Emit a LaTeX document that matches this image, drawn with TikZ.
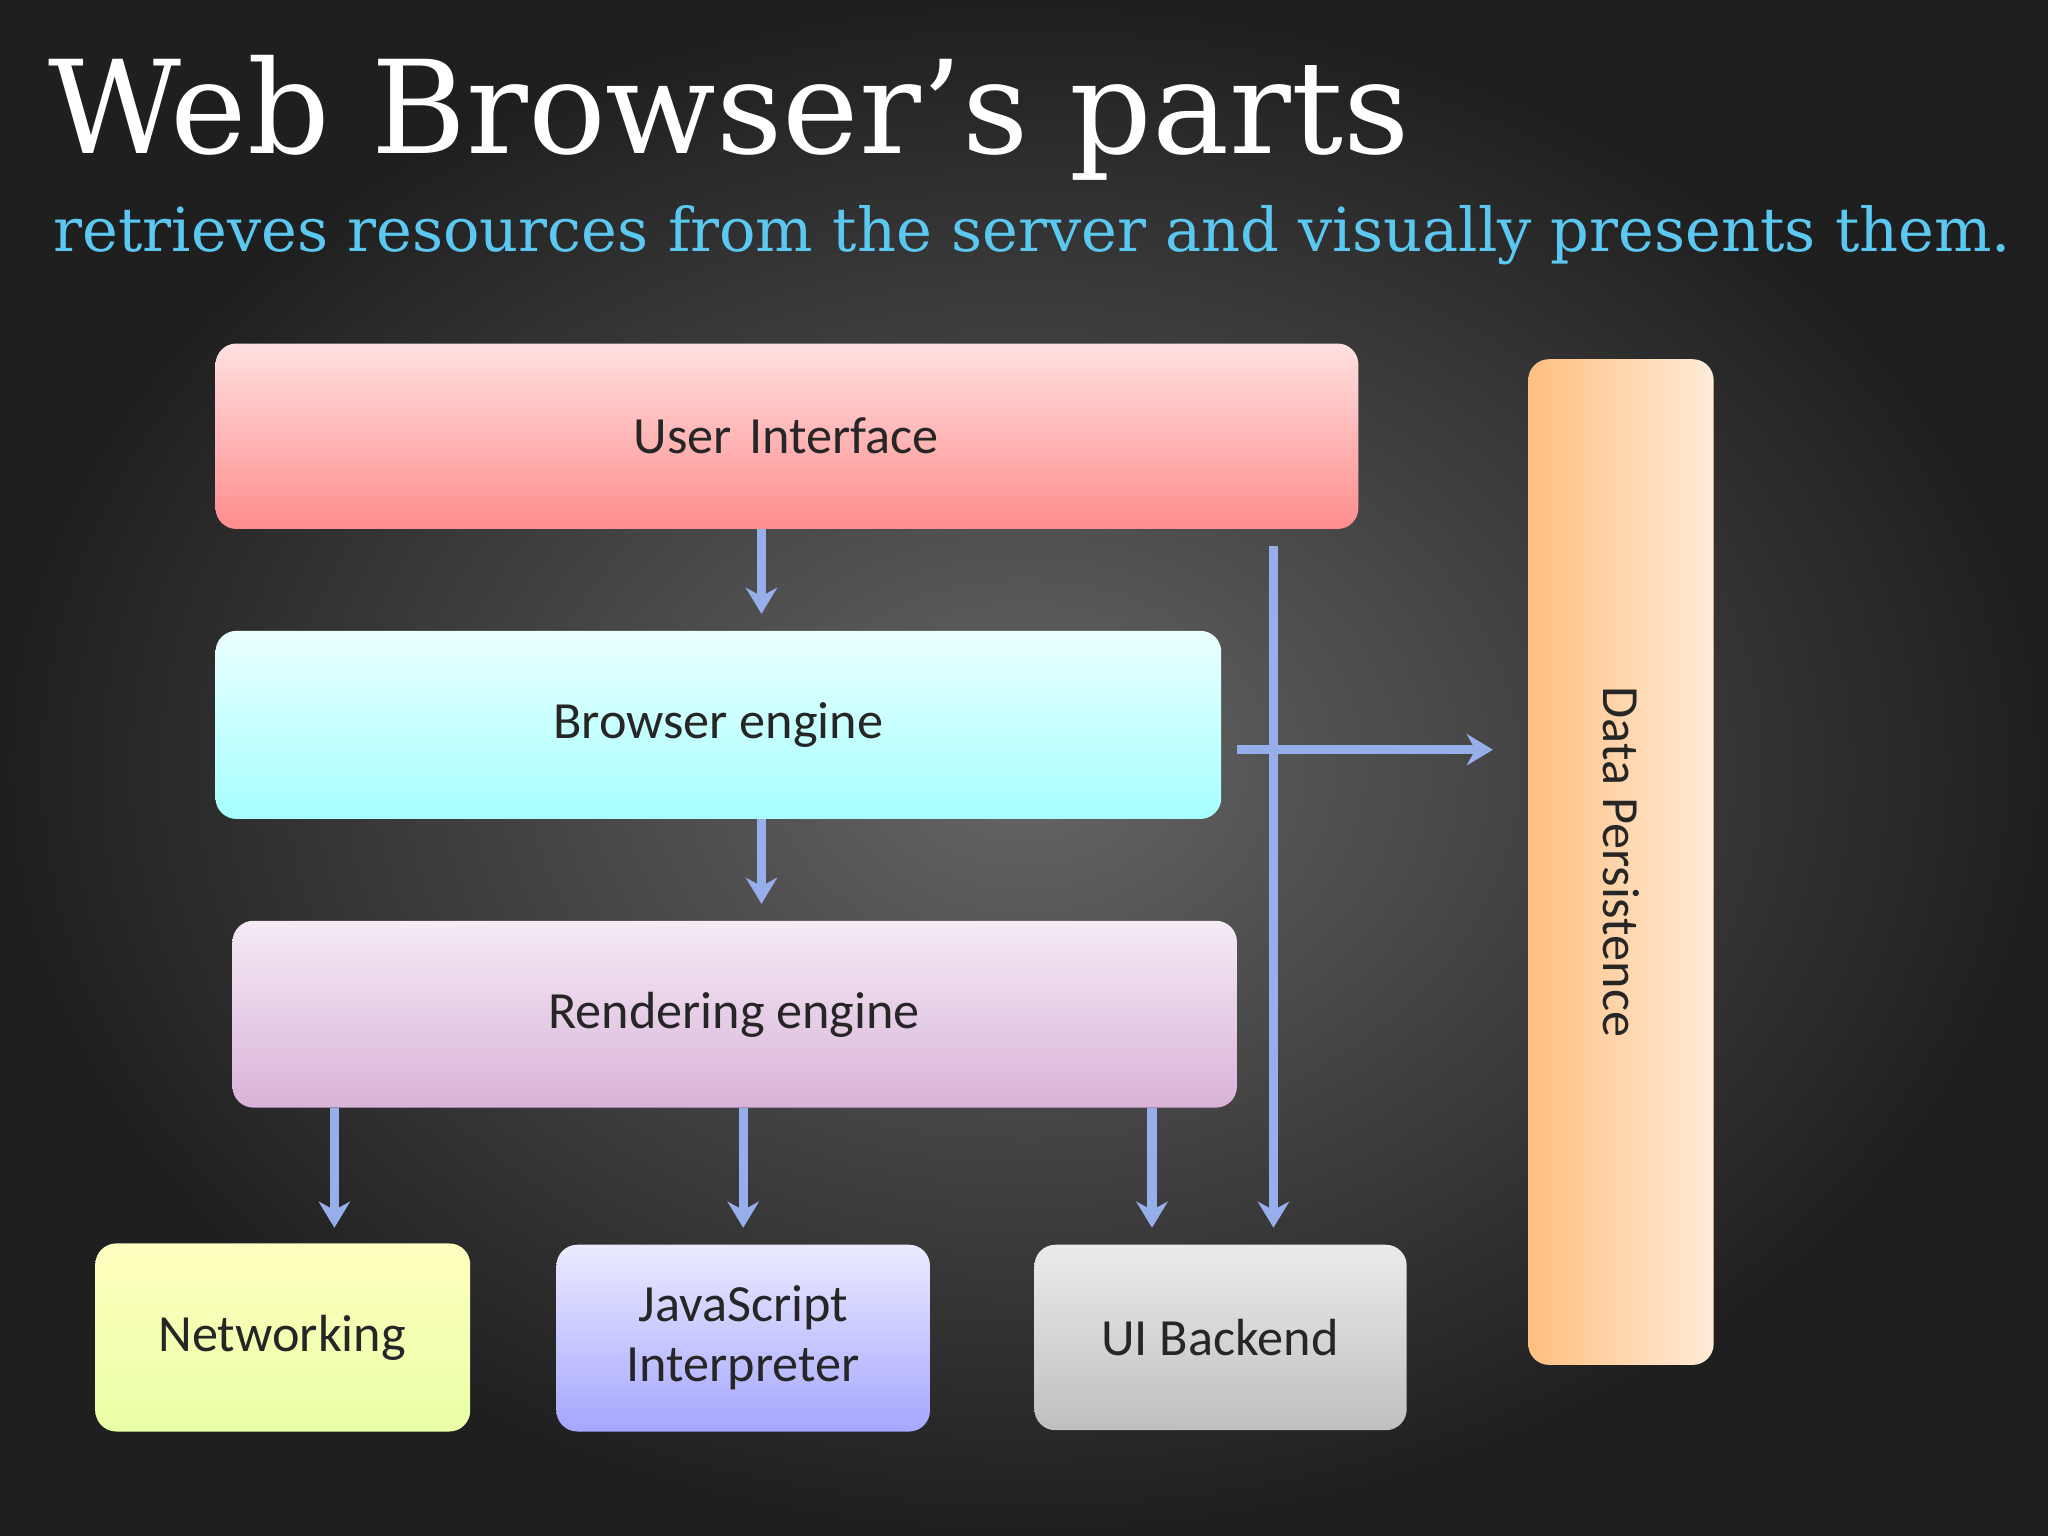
\documentclass[tikz,border=0pt]{standalone}
\usepackage{fontspec}
\setmainfont{DejaVu Serif}
\newfontfamily\boxfont{Carlito}
\usetikzlibrary{arrows.meta}
\definecolor{subblue}{RGB}{90,200,240}
\definecolor{linkblue}{RGB}{150,175,235}
\tikzset{
  part/.style={rounded corners=8pt, draw=none, font=\boxfont\fontsize{20}{23}\selectfont, text=black!85, align=center},
  link/.style={draw=linkblue, line width=3.5pt, -{Stealth[length=10pt,width=12pt]}}
}
\begin{document}
\begin{tikzpicture}[x=0.5pt,y=0.5pt,yscale=-1,xscale=1]
%background
\shade[inner color=black!60, outer color=black!88] (0,0) rectangle (1568,1176);
\useasboundingbox (0,0) rectangle (1568,1176);

% Title
\node (title) [anchor=west, text=white, font=\fontsize{49.5}{52}\selectfont] at (30,90) {Web Browser’s parts};
\node (subtitle) [anchor=west, text=subblue, font=\fontsize{23.2}{26}\selectfont] at (34,180) {retrieves resources from the server and visually presents them.};

%Rounded Rects
\shade[part, top color=red!12, bottom color=red!45] (165,263) rectangle (1040,405);
\node (ui) at (602,334) [part] {User\,\,Interface};
\shade[part, top color=cyan!8, bottom color=cyan!35] (165,483) rectangle (935,627);
\node (be) at (550,555) [part] {Browser engine};
\shade[part, top color=violet!8, bottom color=violet!30] (178,705) rectangle (947,848);
\node (re) at (562,777) [part] {Rendering engine};
\shade[part, top color=yellow!25!white, bottom color=lime!35] (73,952) rectangle (360,1096);
\node (net) at (216,1024) [part] {Networking};
\shade[part, top color=blue!8, bottom color=blue!35] (426,953) rectangle (712,1096);
\node (js) at (569,1024) [part] {JavaScript\\Interpreter};
\shade[part, top color=white!92!black, bottom color=black!25] (792,953) rectangle (1077,1095);
\node (uib) at (934,1024) [part] {UI Backend};
\shade[part, left color=orange!50, right color=orange!15] (1170,275) rectangle (1312,1045);
\node (dp) at (1241,660) [part, rotate=-90] {Data Persistence};

% Connectors
\coordinate (uiA) at (583,405);  \coordinate (beA) at (583,470);
\coordinate (beB) at (583,627);  \coordinate (reB) at (583,692);
\coordinate (r1) at (256,848);   \coordinate (n1) at (256,940);
\coordinate (r2) at (569,848);   \coordinate (j2) at (569,940);
\coordinate (r3) at (882,848);   \coordinate (u3) at (882,940);
\coordinate (uiC) at (975,418);  \coordinate (uC) at (975,940);
\coordinate (beD) at (947,574);  \coordinate (dpD) at (1143,574);
\draw[link] (uiA) -- (beA);
\draw[link] (beB) -- (reB);
\draw[link] (r1) -- (n1);
\draw[link] (r2) -- (j2);
\draw[link] (r3) -- (u3);
\draw[link] (uiC) -- (uC);
\draw[link] (beD) -- (dpD);
\end{tikzpicture}
\end{document}
